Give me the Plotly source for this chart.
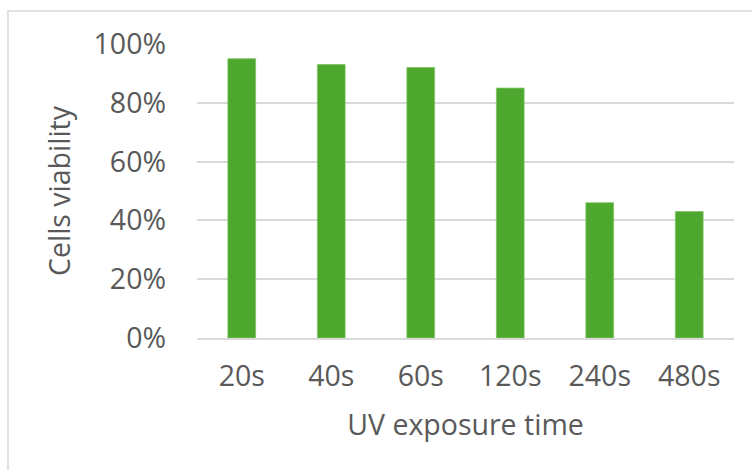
import plotly.graph_objects as go

categories = ["20s", "40s", "60s", "120s", "240s", "480s"]
viability = [0.95, 0.93, 0.92, 0.85, 0.46, 0.43]
y_ticks = [0, 0.2, 0.4, 0.6, 0.8, 1.0]
x_title = "UV exposure time"
y_title = "Cells viability"

FONT = "Open Sans"
TXT = "#595959"
GRID = "#d9d9d9"
FS = 28.5

fig = go.Figure(go.Bar(x=categories, y=viability, marker=dict(color="#4ea72e",
                line=dict(color="#7cc45e", width=0.8))))

L, R, T, B = 197, 18, 44, 132
W, H = 752, 470
pw, ph = W - L - R, H - T - B

fig.update_layout(
    width=W, height=H,
    margin=dict(l=L, r=R, t=T, b=B, pad=0, autoexpand=False),
    paper_bgcolor="white", plot_bgcolor="white",
    bargap=0.69,
    showlegend=False,
    font=dict(family=FONT, color=TXT, size=FS),
    xaxis=dict(
        showgrid=False, showline=True, linecolor=GRID, linewidth=1.5,
        tickfont=dict(size=FS, color=TXT), ticks="", ticklabelstandoff=12,
        title=dict(text=x_title, font=dict(size=FS, color=TXT), standoff=22),
    ),
    yaxis=dict(
        range=[0, 1], tickvals=y_ticks, tickformat=".0%",
        showgrid=True, gridcolor=GRID, gridwidth=1.5, zeroline=False,
        showline=False, ticks="", ticklabelstandoff=30,
        tickfont=dict(size=FS, color=TXT),
    ),
    annotations=[dict(text=y_title, textangle=-90, showarrow=False,
                      xref="paper", yref="paper",
                      x=(80 - L) / pw, y=(H - B - 190) / ph,
                      xanchor="right", yanchor="middle",
                      font=dict(size=FS, color=TXT, family=FONT))],
    shapes=[dict(type="rect", xref="paper", yref="paper",
                 x0=(8 - L) / pw, x1=(W + 20 - L) / pw,
                 y0=(H - B - (H + 20)) / ph, y1=(H - B - 11) / ph,
                 line=dict(color=GRID, width=1.5), fillcolor="rgba(0,0,0,0)", layer="below")],
)

fig.write_html("out.html", config={"displayModeBar": False},
               post_script="document.body.style.margin='0';document.body.style.overflow='hidden';")
